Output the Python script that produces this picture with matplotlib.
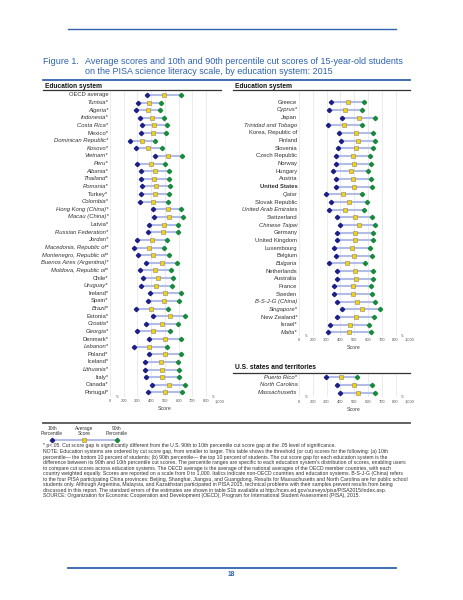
import matplotlib
matplotlib.use('Agg')
import matplotlib.pyplot as plt
from matplotlib.lines import Line2D

plt.rcParams['font.family'] = ['Liberation Sans', 'DejaVu Sans']

# ---- data ----
left_names = ["OECD average", "Tunisia*", "Algeria*", "Indonesia*", "Costa Rica*", "Mexico*",
              "Dominican Republic*", "Kosovo*", "Vietnam*", "Peru*", "Albania*", "Thailand*",
              "Romania*", "Turkey*", "Colombia*", "Hong Kong (China)*", "Macau (China)*",
              "Latvia*", "Russian Federation*", "Jordan*", "Macedonia, Republic of*",
              "Montenegro, Republic of*", "Buenos Aires (Argentina)*", "Moldova, Republic of*",
              "Chile*", "Uruguay*", "Ireland*", "Spain*", "Brazil*", "Estonia*", "Croatia*",
              "Georgia*", "Denmark*", "Lebanon*", "Poland*", "Iceland*", "Lithuania*", "Italy*",
              "Canada*", "Portugal*"]
left_p10 = [368, 301, 289, 318, 330, 325, 246, 287, 429, 299, 328, 323, 333, 325, 316, 412,
            422, 381, 378, 296, 275, 304, 361, 318, 337, 325, 388, 373, 289, 414, 359, 294,
            381, 275, 383, 354, 357, 359, 405, 378]
left_avg = [493, 386, 376, 403, 420, 416, 332, 378, 525, 397, 427, 421, 435, 425, 416, 523,
            529, 490, 487, 409, 384, 411, 475, 428, 447, 435, 503, 493, 401, 534, 475, 411,
            502, 386, 501, 473, 475, 481, 528, 501]
left_p90 = [617, 472, 465, 492, 513, 508, 427, 475, 624, 499, 530, 530, 540, 528, 525, 619,
            631, 598, 595, 516, 496, 528, 588, 542, 559, 552, 617, 605, 523, 648, 595, 535,
            617, 513, 617, 595, 600, 602, 646, 622]

right_names = ["Greece", "Cyprus*", "Japan", "Trinidad and Tobago", "Korea, Republic of",
               "Finland", "Slovenia", "Czech Republic", "Norway", "Hungary", "Austria",
               "United States", "Qatar", "Slovak Republic", "United Arab Emirates",
               "Switzerland", "Chinese Taipei", "Germany", "United Kingdom", "Luxembourg",
               "Belgium", "Bulgaria", "Netherlands", "Australia", "France", "Sweden",
               "B-S-J-G (China)", "Singapore*", "New Zealand*", "Israel*", "Malta*"]
right_p10 = [333, 316, 414, 309, 388, 402, 386, 366, 371, 347, 366, 369, 294, 330, 314, 374,
             395, 376, 379, 352, 366, 316, 374, 374, 354, 357, 379, 414, 374, 328, 311]
right_avg = [455, 433, 538, 425, 516, 531, 513, 493, 498, 477, 495, 496, 418, 461, 437, 506,
             532, 509, 509, 483, 502, 446, 509, 510, 495, 493, 518, 556, 513, 467, 465]
right_p90 = [575, 558, 654, 554, 635, 652, 635, 618, 623, 602, 621, 626, 554, 590, 573, 633,
             654, 638, 640, 616, 630, 580, 640, 640, 623, 626, 650, 686, 647, 609, 619]

state_names = ["Puerto Rico*", "North Carolina", "Massachusetts"]
state_p10 = [297, 378, 400]
state_avg = [403, 502, 529]
state_p90 = [523, 633, 652]

non_oecd = ["Tunisia*", "Algeria*", "Indonesia*", "Costa Rica*", "Dominican Republic*",
            "Kosovo*", "Vietnam*", "Peru*", "Albania*", "Thailand*", "Romania*", "Colombia*",
            "Hong Kong (China)*", "Macau (China)*", "Russian Federation*", "Jordan*",
            "Macedonia, Republic of*", "Montenegro, Republic of*", "Buenos Aires (Argentina)*",
            "Moldova, Republic of*", "Uruguay*", "Brazil*", "Croatia*", "Georgia*", "Lebanon*",
            "Lithuania*", "Cyprus*", "Trinidad and Tobago", "Qatar", "United Arab Emirates",
            "Chinese Taipei", "Bulgaria", "B-S-J-G (China)", "Singapore*", "Malta*",
            "Puerto Rico*", "North Carolina", "Massachusetts"]

tick_vals = [0, 200, 300, 400, 500, 600, 700, 800, 1000]
tick_labels = ["0", "200", "300", "400", "500", "600", "700", "800", "1,000"]
# broken axis: 0 and 1,000 sit one step outside the 200-800 range
tick_pos = [100, 200, 300, 400, 500, 600, 700, 800, 900]

BLUE = '#2f63ad'
C10 = '#1c1f86'
C90 = '#178a3c'
CLINE = '#b3bbe8'
CAVG = '#f4d20c'
TXT = '#333333'

W, H = 464, 600
fig = plt.figure(figsize=(W / 100, H / 100), dpi=100)


def px_axes(x0, y0, x1, y1):
    return fig.add_axes([x0 / W, 1 - y1 / H, (x1 - x0) / W, (y1 - y0) / H])


def hline(x0, x1, y, color, lw):
    fig.add_artist(Line2D([x0 / W, x1 / W], [1 - y / H, 1 - y / H],
                          transform=fig.transFigure, color=color, lw=lw))


def ftext(x, y, s, **kw):
    fig.text(x / W, 1 - y / H, s, **kw)


def panel(ax, names, p10, avg, p90, top, bottom, label_x):
    rows = list(range(len(names)))
    ax.set_xlim(100, 900)
    ax.set_ylim(bottom, top)
    for v in tick_pos:
        ax.axvline(v, color='#e4e4e4', lw=0.5, zorder=0)
    for i in rows:
        ax.plot([p10[i], p90[i]], [i, i], color=CLINE, lw=1.5, zorder=1,
                solid_capstyle='butt')
    ax.plot(p10, rows, 'D', color=C10, ms=2.2, zorder=2)
    ax.plot(p90, rows, 'D', color=C90, ms=2.2, zorder=2)
    ax.plot(avg, rows, 's', mfc=CAVG, mec='#8a8a70', mew=0.4, ms=2.4, zorder=3)
    for i, n in enumerate(names):
        style = 'italic' if n in non_oecd else 'normal'
        weight = 'bold' if n == 'United States' else 'normal'
        ax.text(label_x, i, n, ha='right', va='center', fontsize=4.2, color=TXT,
                style=style, weight=weight, transform=ax.get_yaxis_transform())
    ax.set_xticks(tick_pos)
    ax.set_xticklabels(tick_labels, fontsize=2.9, color='#555555')
    ax.tick_params(axis='x', length=0, pad=1.8)
    ax.set_yticks([])
    ax.set_xlabel('Score', fontsize=3.8, color='#444444', labelpad=2)
    for s in ax.spines.values():
        s.set_visible(False)
    for bx in (150, 850):
        ax.text(bx, 0, '\u2248', transform=ax.get_xaxis_transform(), ha='center',
                va='center', fontsize=3.5, color='#666666')


# left panel
axl = px_axes(110, 91, 220, 397)
panel(axl, left_names, left_p10, left_avg, left_p90, -0.52, 39.6, -0.015)

# right panel
axr = px_axes(299, 91, 409.3, 335.5)
panel(axr, right_names, right_p10, right_avg, right_p90, -1.47, 30.4, -0.015)

# states panel
axs = px_axes(299, 373, 409.3, 397.3)
panel(axs, state_names, state_p10, state_avg, state_p90, -0.56, 2.6, -0.015)

# header, title and rules
hline(68, 396, 29, BLUE, 1.0)
ftext(43, 62, 'Figure 1.', fontsize=6.5, color=BLUE, va='center')
ftext(85, 62, 'Average scores and 10th and 90th percentile cut scores of 15-year-old students',
      fontsize=6.5, color=BLUE, va='center')
ftext(85, 72, 'on the PISA science literacy scale, by education system: 2015',
      fontsize=6.5, color=BLUE, va='center')
hline(43, 410, 80, BLUE, 1.3)

ftext(45, 86, 'Education system', fontsize=4.8, weight='bold', color='#111111', va='center')
ftext(235, 86, 'Education system', fontsize=4.8, weight='bold', color='#111111', va='center')
hline(43, 221, 90, '#333333', 0.9)
hline(233, 410, 90, '#333333', 0.9)

ftext(235, 367.7, 'U.S. states and territories', fontsize=4.8, weight='bold',
      color='#111111', va='center')
hline(233, 410, 372.7, '#333333', 0.9)

hline(43, 410, 423, '#555555', 1.3)

# legend key
key_x = [52, 84, 117]
key_txt = ['10th\nPercentile', 'Average\nScore', '90th\nPercentile']
for kx, kt in zip(key_x, key_txt):
    ftext(kx, 431, kt, fontsize=3.5, color=TXT, ha='center', va='center', linespacing=1.1)
fig.add_artist(Line2D([52 / W, 117 / W], [1 - 440 / H] * 2, transform=fig.transFigure,
                      color=CLINE, lw=1.4))
fig.add_artist(Line2D([52 / W], [1 - 440 / H], transform=fig.transFigure, marker='D',
                      color=C10, ms=2.2, lw=0))
fig.add_artist(Line2D([117 / W], [1 - 440 / H], transform=fig.transFigure, marker='D',
                      color=C90, ms=2.2, lw=0))
fig.add_artist(Line2D([84 / W], [1 - 440 / H], transform=fig.transFigure, marker='s',
                      mfc=CAVG, mec='#8a8a70', mew=0.4, ms=2.4, lw=0))

notes = [
    "* p<.05. Cut score gap is significantly different from the U.S. 90th to 10th percentile cut score gap at the .05 level of significance.",
    "NOTE: Education systems are ordered by cut score gap, from smaller to larger. This table shows the threshold (or cut) scores for the following: (a) 10th",
    "percentile\u2014 the bottom 10 percent of students; (b) 90th percentile\u2014 the top 10 percent of students. The cut score gap for each education system is the",
    "difference between its 90th and 10th percentile cut scores. The percentile ranges are specific to each education system's distribution of scores, enabling users",
    "to compare cut scores across education systems. The OECD average is the average of the national averages of the OECD member countries, with each",
    "country weighted equally. Scores are reported on a scale from 0 to 1,000. Italics indicate non-OECD countries and education systems. B-S-J-G (China) refers",
    "to the four PISA participating China provinces: Beijing, Shanghai, Jiangsu, and Guangdong. Results for Massachusetts and North Carolina are for public school",
    "students only. Although Argentina, Malaysia, and Kazakhstan participated in PISA 2015, technical problems with their samples prevent results from being",
    "discussed in this report. The standard errors of the estimates are shown in table S1b available at http://nces.ed.gov/surveys/pisa/PISA2015/index.asp.",
    "SOURCE: Organization for Economic Cooperation and Development (OECD), Program for International Student Assessment (PISA), 2015.",
]
for k, line in enumerate(notes):
    ftext(43, 446 + 5.55 * k, line, fontsize=3.72, color=TXT, va='center')

# page footer
hline(68, 396, 568, BLUE, 1.3)
ftext(231, 575, '18', fontsize=4.8, weight='bold', color=BLUE, ha='center', va='center')

fig.savefig('out.png', dpi=100)
